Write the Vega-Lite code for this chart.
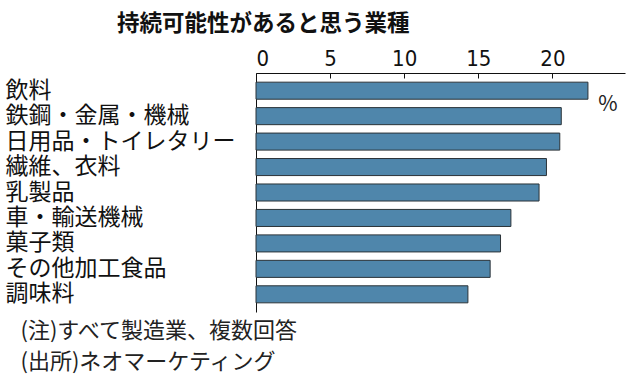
{
  "$schema": "https://vega.github.io/schema/vega-lite/v6.json",
  "autosize": {"type": "none"},
  "width": 369,
  "height": 239,
  "padding": {"left": 256, "top": 73, "right": 13, "bottom": 71},
  "background": "white",
  "config": {"view": {"stroke": null}, "font": "Noto Sans CJK JP"},
  "title": {
    "text": "持続可能性があると思う業種",
    "anchor": "start",
    "frame": "group",
    "dx": -139,
    "fontSize": 22.5,
    "fontWeight": "bold",
    "font": "Noto Sans CJK JP",
    "color": "#111",
    "offset": 12
  },
  "data": {
    "values": [
      {"industry": "飲料", "pct": 22.4},
      {"industry": "鉄鋼・金属・機械", "pct": 20.6},
      {"industry": "日用品・トイレタリー", "pct": 20.5},
      {"industry": "繊維、衣料", "pct": 19.6},
      {"industry": "乳製品", "pct": 19.1},
      {"industry": "車・輸送機械", "pct": 17.2},
      {"industry": "菓子類", "pct": 16.5},
      {"industry": "その他加工食品", "pct": 15.8},
      {"industry": "調味料", "pct": 14.3}
    ]
  },
  "layer": [
    {
      "mark": {"type": "bar", "fill": "#4f86ab", "stroke": "#2b3338", "strokeWidth": 1},
      "encoding": {
        "x": {
          "field": "pct",
          "type": "quantitative",
          "scale": {"domain": [0, 24.9], "nice": false},
          "axis": {
            "orient": "top",
            "values": [0, 5, 10, 15, 20],
            "title": null,
            "grid": false,
            "domainColor": "#111",
            "domainWidth": 1.2,
            "tickColor": "#111",
            "tickSize": -5,
            "labelPadding": 8,
            "labelFont": "DejaVu Sans Condensed, Liberation Sans Narrow, sans-serif",
            "labelFontSize": 22,
            "labelColor": "#111"
          }
        },
        "y": {
          "field": "industry",
          "type": "nominal",
          "sort": null,
          "scale": {"paddingInner": 0.33, "paddingOuter": 0.36},
          "axis": {
            "orient": "left",
            "ticks": false,
            "tickSize": 0,
            "labelAlign": "left",
            "labelPadding": 251,
            "labelLimit": 300,
            "labelFontSize": 23,
            "labelColor": "#111",
            "labelFont": "Noto Sans CJK JP",
            "domainColor": "#111",
            "domainWidth": 1,
            "title": ["(注)すべて製造業、複数回答", "(出所)ネオマーケティング"],
            "titleAngle": 0,
            "titleAlign": "left",
            "titleBaseline": "top",
            "titleX": -236,
            "titleY": 247,
            "titleFontSize": 22,
            "titleFontWeight": "normal",
            "titleFont": "Noto Sans CJK JP",
            "titleColor": "#222",
            "titleLineHeight": 31
          }
        }
      }
    },
    {
      "data": {"values": [{"unit": "%"}]},
      "mark": {"type": "text", "align": "left", "baseline": "middle", "fontSize": 21, "color": "#222", "dy": 14, "font": "Noto Sans CJK JP"},
      "encoding": {
        "x": {"datum": 23.1, "type": "quantitative"},
        "y": {"datum": "飲料", "type": "nominal"},
        "text": {"field": "unit"}
      }
    }
  ]
}
